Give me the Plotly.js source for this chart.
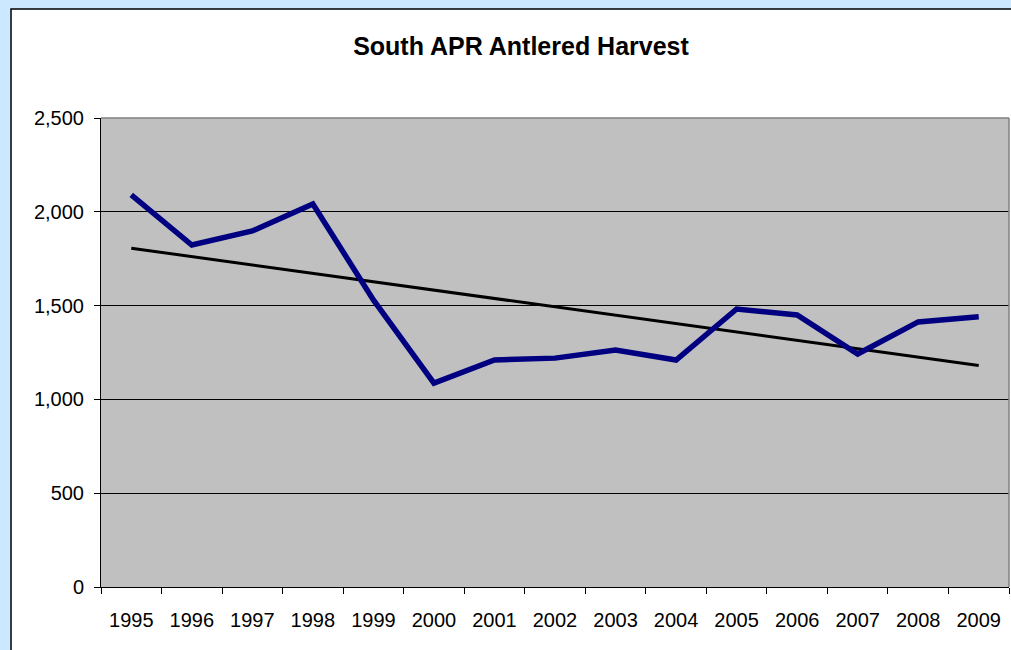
<!DOCTYPE html>
<html>
<head>
<meta charset="utf-8">
<script src="https://cdn.plot.ly/plotly-3.0.1.min.js"></script>
<style>html,body{margin:0;padding:0;background:#CCE8FF;}#chart{width:1011px;height:650px;}</style>
</head>
<body>
<div id="chart"></div>
<script>
const years = ['1995','1996','1997','1998','1999','2000','2001','2002','2003','2004','2005','2006','2007','2008','2009'];
const harvest = [2090, 1823, 1898, 2042, 1530, 1087, 1210, 1220, 1263, 1210, 1482, 1450, 1242, 1413, 1440];
const yTicks = [0, 500, 1000, 1500, 2000, 2500];
const yTickLabels = ['0', '500', '1,000', '1,500', '2,000', '2,500'];

// linear least-squares trendline computed from the data
const n = harvest.length;
const idx = harvest.map((_, i) => i);
const mx = idx.reduce((a, b) => a + b, 0) / n;
const my = harvest.reduce((a, b) => a + b, 0) / n;
let sxy = 0, sxx = 0;
idx.forEach((x, i) => { sxy += (x - mx) * (harvest[i] - my); sxx += (x - mx) * (x - mx); });
const slope = sxy / sxx;
const trend = idx.map(x => my + slope * (x - mx));

const font = 'Liberation Sans, Arial, sans-serif';

const data = [
  {x: years, y: trend, type: 'scatter', mode: 'lines', line: {color: '#000000', width: 3}, hoverinfo: 'skip'},
  {x: years, y: harvest, type: 'scatter', mode: 'lines', line: {color: '#000080', width: 5.5}}
];

const layout = {
  width: 1011, height: 650,
  paper_bgcolor: '#CCE8FF',
  plot_bgcolor: 'rgba(0,0,0,0)',
  showlegend: false,
  margin: {l: 101, r: 2, t: 118, b: 63, pad: 0},
  title: {text: '<b>South APR Antlered Harvest</b>', font: {family: font, size: 25, color: '#000'},
          x: 521/1011, xanchor: 'center', y: 1 - 46.5/650, yanchor: 'middle', xref: 'container', yref: 'container'},
  xaxis: {
    type: 'category', tickson: 'boundaries', ticks: 'outside', ticklen: 6, tickcolor: '#000',
    showline: true, linecolor: '#000', linewidth: 1, mirror: false,
    showgrid: false, zeroline: false,
    tickfont: {family: font, size: 20, color: '#000'}, ticklabelstandoff: 15,
    range: [-0.5, 14.5], fixedrange: true
  },
  yaxis: {
    range: [0, 2500], tickvals: yTicks, ticktext: yTickLabels,
    ticks: 'outside', ticklen: 6, tickcolor: '#000',
    showline: true, linecolor: '#000', linewidth: 1,
    showgrid: true, gridcolor: '#000', gridwidth: 1, zeroline: false,
    tickfont: {family: font, size: 20, color: '#000'}, ticklabelstandoff: 6,
    fixedrange: true
  },
  shapes: [
    {type: 'rect', xref: 'paper', yref: 'paper', layer: 'below',
     x0: -0.0991, x1: 1.05, y0: -0.3, y1: 1.2324,
     fillcolor: '#FFFFFF', line: {color: '#000', width: 1.5}},
    {type: 'rect', xref: 'paper', yref: 'paper', layer: 'below',
     x0: 0, x1: 1, y0: 0, y1: 1,
     fillcolor: '#C0C0C0', line: {width: 0}},
    {type: 'line', xref: 'paper', yref: 'paper', x0: 0, x1: 1, y0: 1, y1: 1, line: {color: '#808080', width: 1.5}},
    {type: 'line', xref: 'paper', yref: 'paper', x0: 1, x1: 1, y0: 0, y1: 1, line: {color: '#808080', width: 1.5}}
  ]
};

Plotly.newPlot('chart', data, layout, {displayModeBar: false, staticPlot: true});
</script>
</body>
</html>
